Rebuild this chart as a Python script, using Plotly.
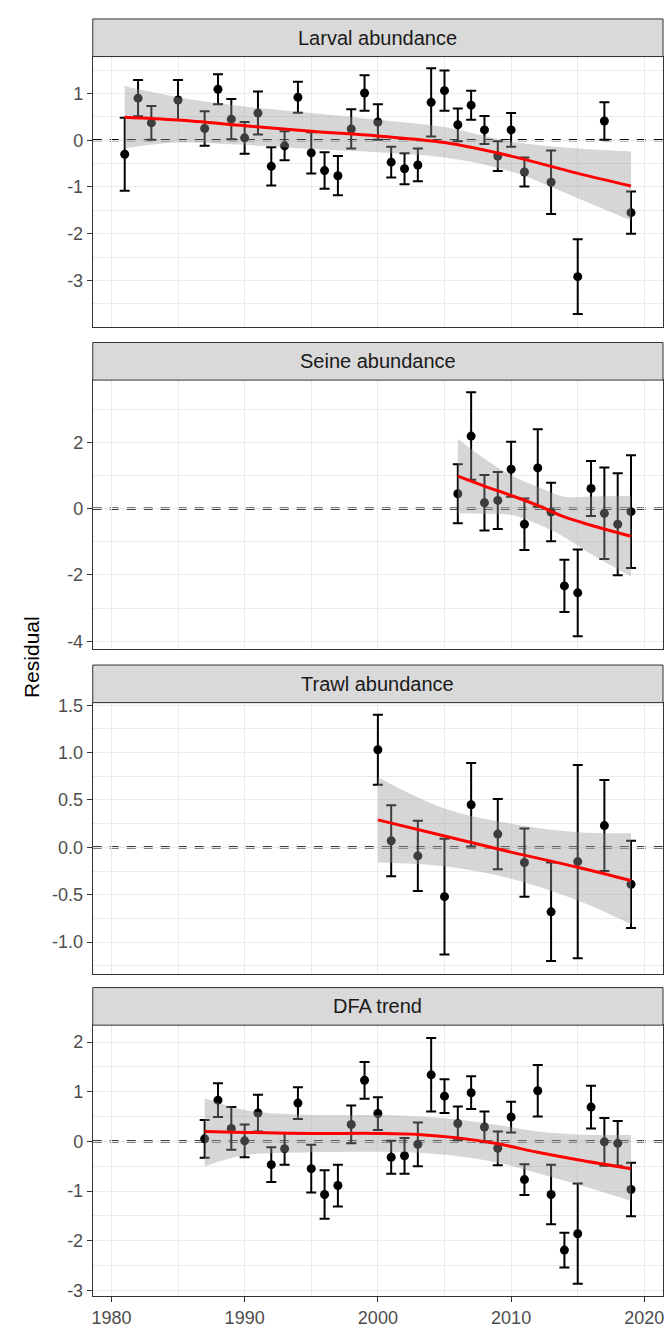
import plotly.graph_objects as go

# ---------------- data ----------------
panel_titles = ["Larval abundance", "Seine abundance", "Trawl abundance", "DFA trend"]

larval_years = [1981, 1982, 1983, 1985, 1987, 1988, 1989, 1990, 1991, 1992, 1993, 1994, 1995,
                1996, 1997, 1998, 1999, 2000, 2001, 2002, 2003, 2004, 2005, 2006, 2007, 2008,
                2009, 2010, 2011, 2013, 2015, 2017, 2019]
larval_resid = [-0.30, 0.90, 0.37, 0.86, 0.25, 1.09, 0.45, 0.05, 0.58, -0.56, -0.12, 0.92, -0.27,
                -0.65, -0.76, 0.24, 1.01, 0.39, -0.47, -0.61, -0.53, 0.81, 1.06, 0.33, 0.75, 0.22,
                -0.34, 0.22, -0.68, -0.90, -2.92, 0.41, -1.55]
larval_err = [0.78, 0.39, 0.36, 0.43, 0.37, 0.32, 0.43, 0.34, 0.46, 0.41, 0.31, 0.33, 0.44,
              0.39, 0.42, 0.42, 0.38, 0.38, 0.33, 0.33, 0.35, 0.73, 0.43, 0.35, 0.31, 0.30,
              0.32, 0.36, 0.31, 0.68, 0.80, 0.40, 0.45]
larval_fit_years = [1981, 1985, 1990, 1995, 2000, 2005, 2010, 2015, 2019]
larval_fit = [0.49, 0.43, 0.31, 0.19, 0.09, -0.05, -0.34, -0.71, -0.98]
larval_hi = [1.16, 0.92, 0.72, 0.58, 0.44, 0.28, -0.03, -0.18, -0.24]
larval_lo = [-0.17, -0.05, -0.10, -0.19, -0.26, -0.37, -0.67, -1.24, -1.72]

seine_years = [2006, 2007, 2008, 2009, 2010, 2011, 2012, 2013, 2014, 2015, 2016, 2017, 2018, 2019]
seine_resid = [0.45, 2.19, 0.18, 0.25, 1.19, -0.47, 1.23, -0.10, -2.33, -2.54, 0.61, -0.14, -0.47, -0.09]
seine_err = [0.89, 1.32, 0.84, 0.86, 0.83, 0.78, 1.17, 0.88, 0.79, 1.31, 0.83, 1.38, 1.54, 1.70]
seine_fit_years = [2006, 2008, 2010, 2012, 2014, 2016, 2019]
seine_fit = [0.98, 0.68, 0.40, 0.10, -0.25, -0.50, -0.83]
seine_hi = [2.10, 1.51, 1.01, 0.66, 0.36, 0.37, 0.39]
seine_lo = [-0.14, -0.15, -0.19, -0.46, -0.86, -1.37, -2.05]

trawl_years = [2000, 2001, 2003, 2005, 2007, 2009, 2011, 2013, 2015, 2017, 2019]
trawl_resid = [1.03, 0.07, -0.09, -0.52, 0.45, 0.14, -0.16, -0.68, -0.15, 0.23, -0.39]
trawl_err = [0.37, 0.375, 0.37, 0.61, 0.44, 0.37, 0.36, 0.52, 1.02, 0.48, 0.46]
trawl_fit_years = [2000, 2005, 2010, 2015, 2019]
trawl_fit = [0.29, 0.12, -0.05, -0.21, -0.35]
trawl_hi = [0.74, 0.41, 0.25, 0.16, 0.15]
trawl_lo = [-0.16, -0.20, -0.33, -0.56, -0.81]

dfa_years = list(range(1987, 2020))
dfa_resid = [0.05, 0.83, 0.26, 0.01, 0.57, -0.47, -0.15, 0.77, -0.55, -1.07, -0.89, 0.34, 1.23,
             0.56, -0.32, -0.29, -0.06, 1.34, 0.91, 0.36, 0.98, 0.29, -0.14, 0.49, -0.77, 1.02,
             -1.07, -2.19, -1.86, 0.69, -0.01, -0.04, -0.97]
dfa_err = [0.38, 0.34, 0.43, 0.33, 0.37, 0.35, 0.32, 0.32, 0.48, 0.49, 0.42, 0.38, 0.37,
           0.33, 0.33, 0.36, 0.44, 0.74, 0.34, 0.34, 0.33, 0.31, 0.34, 0.31, 0.31, 0.52,
           0.60, 0.35, 1.01, 0.43, 0.48, 0.45, 0.54]
dfa_fit_years = [1987, 1990, 1995, 2000, 2003, 2006, 2009, 2012, 2015, 2019]
dfa_fit = [0.20, 0.18, 0.16, 0.16, 0.14, 0.07, -0.05, -0.22, -0.37, -0.55]
dfa_hi = [0.87, 0.63, 0.53, 0.53, 0.50, 0.44, 0.33, 0.20, 0.14, 0.13]
dfa_lo = [-0.50, -0.28, -0.22, -0.21, -0.23, -0.30, -0.43, -0.64, -0.87, -1.20]

x_ticks = [1980, 1990, 2000, 2010, 2020]
x_minor = [1985, 1995, 2005, 2015]
y_ticks = [[-3, -2, -1, 0, 1], [-4, -2, 0, 2], [-1.0, -0.5, 0.0, 0.5, 1.0, 1.5], [-3, -2, -1, 0, 1, 2]]
y_tick_text = [["-3", "-2", "-1", "0", "1"], ["-4", "-2", "0", "2"],
               ["-1.0", "-0.5", "0.0", "0.5", "1.0", "1.5"], ["-3", "-2", "-1", "0", "1", "2"]]
y_minor = [[-3.5, -2.5, -1.5, -0.5, 0.5, 1.5], [-3, -1, 1, 3],
           [-1.25, -0.75, -0.25, 0.25, 0.75, 1.25], [-2.5, -1.5, -0.5, 0.5, 1.5]]

# ---------------- layout geometry (page px; the page body has an 8px margin) ----------------
OFF = 8
W, H = 656, 1320
X0, X1 = 92 - OFF, 664 - OFF
plot_px = [(50, 323), (377, 649), (703, 977), (1029, 1303)]
strip_px = [(12, 50), (339, 377), (665, 703), (991, 1029)]
yranges = [[-3.99, 1.79], [-4.24, 3.88], [-1.333, 1.527], [-3.12, 2.34]]
xrange_ = [1978.6, 2021.4]

FONT = "Liberation Sans, Arial, sans-serif"
GRID = "#EBEBEB"
AX = "#333333"

panels = [
    (larval_years, larval_resid, larval_err, larval_fit_years, larval_fit, larval_hi, larval_lo),
    (seine_years, seine_resid, seine_err, seine_fit_years, seine_fit, seine_hi, seine_lo),
    (trawl_years, trawl_resid, trawl_err, trawl_fit_years, trawl_fit, trawl_hi, trawl_lo),
    (dfa_years, dfa_resid, dfa_err, dfa_fit_years, dfa_fit, dfa_hi, dfa_lo),
]

fig = go.Figure()
shapes = []
annotations = []
layout_axes = {}

for i, (yrs, res, err, fy, fit, hi, lo) in enumerate(panels):
    n = i + 1
    xa = "x" if n == 1 else f"x{n}"
    ya = "y" if n == 1 else f"y{n}"

    # points + error bars
    fig.add_trace(go.Scatter(
        x=yrs, y=res, mode="markers", xaxis=xa, yaxis=ya,
        marker=dict(color="black", size=9),
        error_y=dict(type="data", array=err, symmetric=True, color="black",
                     thickness=2, width=5),
        hoverinfo="x+y"))
    # confidence ribbon
    fig.add_trace(go.Scatter(
        x=fy, y=lo, mode="lines", xaxis=xa, yaxis=ya,
        line=dict(width=0, shape="spline", color="rgba(0,0,0,0)"), hoverinfo="skip"))
    fig.add_trace(go.Scatter(
        x=fy, y=hi, mode="lines", xaxis=xa, yaxis=ya, fill="tonexty",
        fillcolor="rgba(153,153,153,0.4)",
        line=dict(width=0, shape="spline", color="rgba(0,0,0,0)"), hoverinfo="skip"))
    # smooth
    fig.add_trace(go.Scatter(
        x=fy, y=fit, mode="lines", xaxis=xa, yaxis=ya,
        line=dict(color="#FF0000", width=3, shape="spline"), hoverinfo="skip"))

    top, bot = plot_px[i]
    top -= OFF
    bot -= OFF
    ydom = [1 - bot / H, 1 - top / H]
    last = (n == 4)

    xkey = "xaxis" if n == 1 else f"xaxis{n}"
    ykey = "yaxis" if n == 1 else f"yaxis{n}"
    layout_axes[xkey] = dict(
        domain=[X0 / W, X1 / W], anchor=ya, range=xrange_,
        tickmode="array", tickvals=x_ticks, ticktext=[str(v) for v in x_ticks],
        showticklabels=last, ticks="outside" if last else "", ticklen=5,
        tickcolor=AX, tickwidth=1, ticklabeloverflow="allow",
        tickfont=dict(family=FONT, size=18, color="#4D4D4D"),
        showgrid=True, gridcolor=GRID, gridwidth=1.3,
        minor=dict(tickmode="array", tickvals=x_minor,
                   showgrid=True, gridcolor=GRID, gridwidth=0.7),
        showline=True, mirror=True, linecolor=AX, linewidth=1, zeroline=False,
        fixedrange=True)
    if n > 1:
        layout_axes[xkey]["matches"] = "x"
    layout_axes[ykey] = dict(
        domain=ydom, anchor=xa, range=yranges[i],
        tickmode="array", tickvals=y_ticks[i], ticktext=y_tick_text[i],
        ticks="outside", ticklen=5, tickcolor=AX, tickwidth=1,
        ticklabeloverflow="allow",
        tickfont=dict(family=FONT, size=18, color="#4D4D4D"),
        showgrid=True, gridcolor=GRID, gridwidth=1.3,
        minor=dict(tickmode="array", tickvals=y_minor[i],
                   showgrid=True, gridcolor=GRID, gridwidth=0.7),
        showline=True, mirror=True, linecolor=AX, linewidth=1, zeroline=False,
        fixedrange=True)

    # dashed zero line
    shapes.append(dict(type="line", xref=f"{xa} domain", yref=ya, x0=0, x1=1, y0=0, y1=0,
                       line=dict(color="black", width=2.2, dash="9px,8px"), layer="below"))

    # facet strip
    st, sb = strip_px[i]
    st -= OFF
    sb -= OFF
    shapes.append(dict(type="rect", xref="paper", yref="paper",
                       x0=X0 / W, x1=X1 / W, y0=1 - sb / H, y1=1 - st / H,
                       fillcolor="#D9D9D9", line=dict(color=AX, width=1), layer="above"))
    annotations.append(dict(text=panel_titles[i], xref="paper", yref="paper",
                            x=(X0 + X1) / 2 / W, y=1 - (st + sb) / 2 / H,
                            xanchor="center", yanchor="middle", showarrow=False,
                            font=dict(family=FONT, size=20, color="#1A1A1A")))

annotations.append(dict(text="Residual", xref="paper", yref="paper",
                        x=(30 - OFF) / W, y=1 - (657 - OFF) / H, textangle=-90,
                        xanchor="center", yanchor="middle", showarrow=False,
                        font=dict(family=FONT, size=21, color="black")))

fig.update_layout(
    width=W, height=H, margin=dict(l=0, r=0, t=0, b=0),
    paper_bgcolor="white", plot_bgcolor="white", showlegend=False,
    font=dict(family=FONT), shapes=shapes, annotations=annotations,
    **layout_axes)

fig.write_html("out.html")
